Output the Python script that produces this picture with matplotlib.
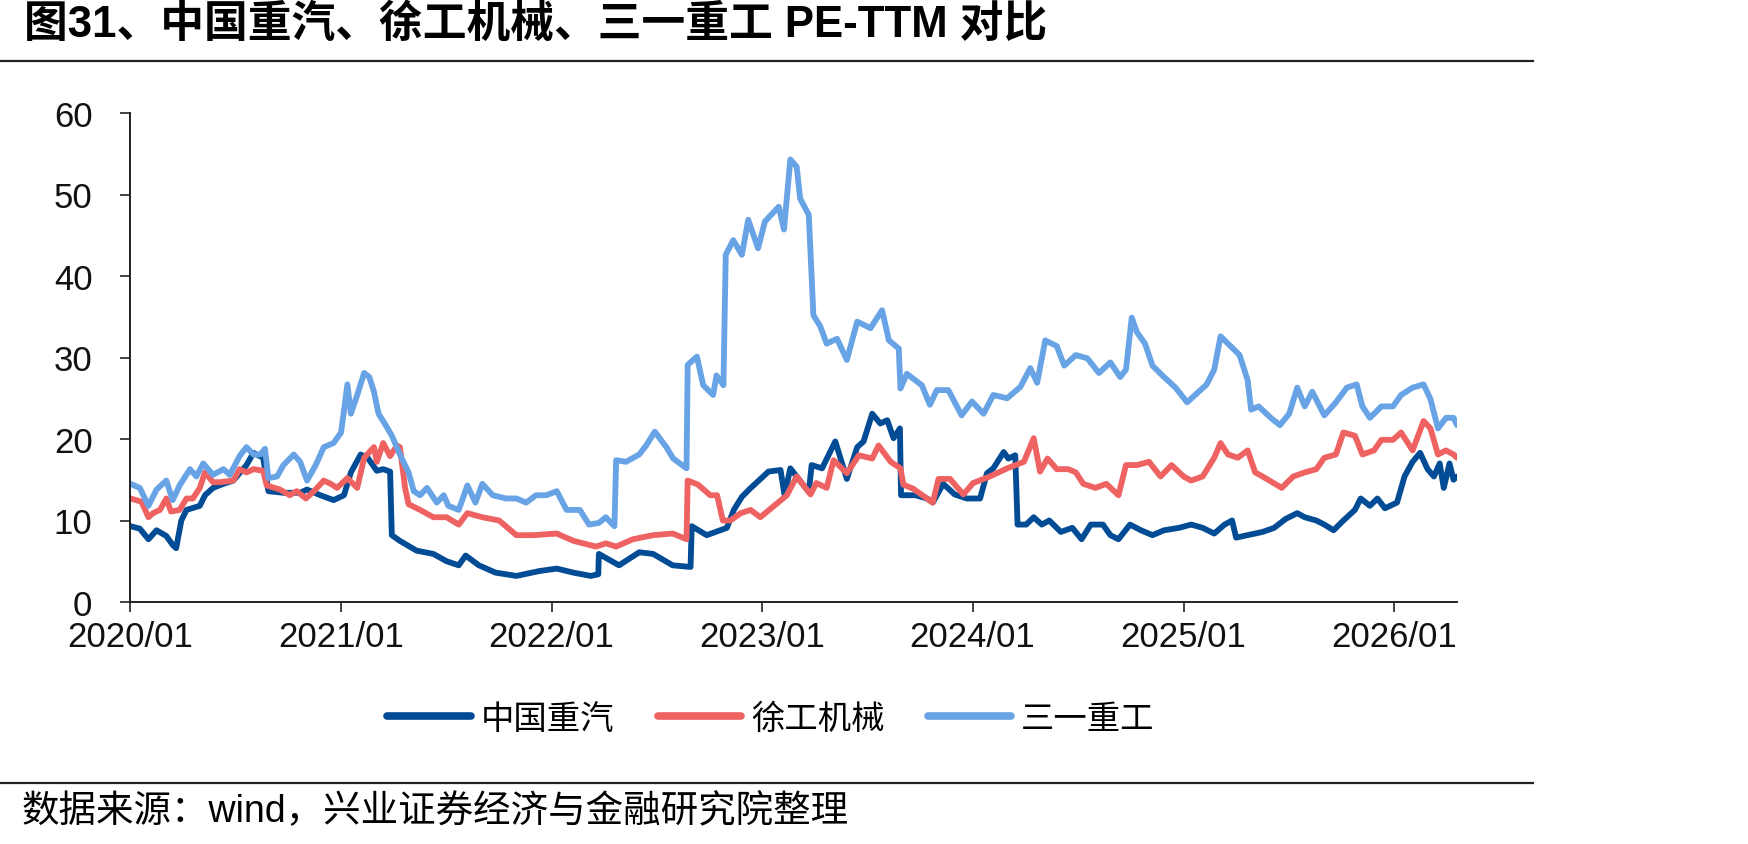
import matplotlib
matplotlib.use("Agg")
import matplotlib.pyplot as plt
import matplotlib.dates as mdates
from matplotlib.lines import Line2D
import pandas as pd

# ---------------- data ----------------
title = "图31、中国重汽、徐工机械、三一重工 PE-TTM 对比"
source = "数据来源：wind，兴业证券经济与金融研究院整理"
series_names = ["中国重汽", "徐工机械", "三一重工"]
y_ticks = [0, 10, 20, 30, 40, 50, 60]
x_tick_dates = ["2020-01-01", "2021-01-01", "2022-01-01", "2023-01-01",
                "2024-01-01", "2025-01-01", "2026-01-01"]

zq_dates = [
    "2020-01-02", "2020-01-18", "2020-02-02", "2020-02-16", "2020-03-04", "2020-03-15", "2020-03-21",
    "2020-03-30", "2020-04-08", "2020-05-01", "2020-05-10", "2020-05-24", "2020-06-11", "2020-06-28",
    "2020-07-21", "2020-08-02", "2020-08-19", "2020-08-28", "2020-09-23", "2020-10-22", "2020-11-03",
    "2020-11-26", "2020-12-19", "2021-01-06", "2021-01-18", "2021-02-04", "2021-02-16", "2021-03-04",
    "2021-03-15", "2021-03-27", "2021-03-30", "2021-04-13", "2021-05-12", "2021-06-10", "2021-07-03",
    "2021-07-24", "2021-08-05", "2021-08-28", "2021-09-26", "2021-11-01", "2021-12-11", "2022-01-10",
    "2022-02-08", "2022-03-10", "2022-03-23", "2022-03-24", "2022-04-28", "2022-06-02", "2022-06-26",
    "2022-07-30", "2022-08-30", "2022-09-01", "2022-09-27", "2022-11-01", "2022-11-13", "2022-11-27",
    "2022-12-11", "2023-01-12", "2023-02-02", "2023-02-09", "2023-02-19", "2023-03-23", "2023-03-28",
    "2023-04-15", "2023-05-08", "2023-05-28", "2023-06-15", "2023-06-26", "2023-07-11", "2023-07-25",
    "2023-08-06", "2023-08-17", "2023-08-28", "2023-08-30", "2023-09-24", "2023-10-14", "2023-10-24",
    "2023-11-11", "2023-12-01", "2023-12-22", "2024-01-14", "2024-01-26", "2024-02-06", "2024-02-24",
    "2024-03-03", "2024-03-15", "2024-03-19", "2024-04-03", "2024-04-16", "2024-04-30",
    "2024-05-13", "2024-06-02", "2024-06-22", "2024-07-08", "2024-07-24", "2024-08-14", "2024-08-27",
    "2024-09-10", "2024-09-30", "2024-10-19", "2024-11-08", "2024-11-28", "2024-12-24", "2025-01-14",
    "2025-02-03", "2025-02-23", "2025-03-13", "2025-03-26", "2025-04-02", "2025-04-22", "2025-05-18",
    "2025-06-07", "2025-06-27", "2025-07-17", "2025-07-30", "2025-08-19", "2025-09-02", "2025-09-18",
    "2025-10-05", "2025-10-25", "2025-11-04", "2025-11-20", "2025-12-03", "2025-12-16", "2026-01-06",
    "2026-01-19", "2026-02-02", "2026-02-15", "2026-02-28", "2026-03-11", "2026-03-21", "2026-03-28",
    "2026-04-07", "2026-04-14", "2026-04-20",
]
zq_values = [
    9.3, 9.0, 7.7, 8.8, 8.1, 7.0, 6.6,
    10.0, 11.3, 11.8, 13.1, 14.0, 14.5, 14.9,
    16.8, 18.3, 17.7, 13.6, 13.4, 13.4, 13.8,
    13.1, 12.5, 13.1, 15.9, 18.1, 17.7, 16.1,
    16.3, 16.0, 8.2, 7.5, 6.3, 5.9, 5.0,
    4.5, 5.7, 4.5, 3.6, 3.2, 3.8, 4.1,
    3.6, 3.2, 3.4, 5.9, 4.5, 6.1, 5.9,
    4.5, 4.3, 9.3, 8.2, 9.1, 11.3, 12.9,
    13.9, 16.0, 16.2, 13.1, 16.4, 13.5, 16.8,
    16.4, 19.7, 15.1, 19.0, 19.7, 23.1, 21.9,
    22.3, 20.1, 21.3, 13.1, 13.1, 12.7, 12.2,
    14.5, 13.2, 12.7, 12.7, 15.8, 16.4, 18.4,
    17.6, 18.0, 9.5, 9.5, 10.4, 9.5,
    10.0, 8.6, 9.1, 7.7, 9.5, 9.5, 8.2,
    7.7, 9.5, 8.8, 8.2, 8.8, 9.1, 9.5,
    9.1, 8.4, 9.5, 10.0, 7.9, 8.2, 8.6,
    9.1, 10.2, 10.9, 10.4, 10.0, 9.5, 8.8,
    10.0, 11.3, 12.7, 11.8, 12.7, 11.5, 12.2,
    15.4, 17.2, 18.3, 16.3, 15.4, 17.0, 14.0,
    17.0, 15.0, 15.4,
]

xg_dates = [
    "2020-01-02", "2020-01-12", "2020-01-21", "2020-02-02", "2020-02-10", "2020-02-22", "2020-03-04",
    "2020-03-12", "2020-03-27", "2020-04-08", "2020-04-19", "2020-05-01", "2020-05-10", "2020-05-24",
    "2020-06-05", "2020-06-28", "2020-07-09", "2020-07-21", "2020-08-02", "2020-08-19", "2020-08-25",
    "2020-09-17", "2020-10-04", "2020-10-16", "2020-11-01", "2020-11-15", "2020-12-02", "2020-12-14",
    "2020-12-25", "2021-01-12", "2021-01-29", "2021-02-10", "2021-02-27", "2021-03-04", "2021-03-15",
    "2021-03-27", "2021-04-08", "2021-04-13", "2021-04-22", "2021-04-28", "2021-05-18", "2021-06-10",
    "2021-07-03", "2021-07-24", "2021-08-08", "2021-09-03", "2021-10-02", "2021-11-01", "2021-11-30",
    "2022-01-10", "2022-02-08", "2022-03-19", "2022-04-05", "2022-04-23", "2022-05-22", "2022-06-26",
    "2022-07-30", "2022-08-23", "2022-08-25", "2022-09-12", "2022-10-03", "2022-10-15", "2022-10-25",
    "2022-11-07", "2022-11-25", "2022-12-12", "2022-12-29", "2023-01-22", "2023-02-13", "2023-03-02",
    "2023-03-26", "2023-04-05", "2023-04-23", "2023-05-05", "2023-05-28", "2023-06-18", "2023-07-11",
    "2023-07-22", "2023-08-12", "2023-08-29", "2023-09-03", "2023-09-20", "2023-10-24", "2023-11-03",
    "2023-11-23", "2023-12-16", "2024-01-02", "2024-01-31", "2024-03-01", "2024-03-30", "2024-04-16",
    "2024-04-27", "2024-05-10",
    "2024-05-26", "2024-06-15", "2024-06-28", "2024-07-11", "2024-08-01", "2024-08-20", "2024-09-10",
    "2024-09-23", "2024-10-12", "2024-11-02", "2024-11-22", "2024-12-11", "2025-01-01", "2025-01-14",
    "2025-02-03", "2025-02-23", "2025-03-06", "2025-03-19", "2025-04-05", "2025-04-22", "2025-05-05",
    "2025-05-18", "2025-06-20", "2025-07-10", "2025-07-30", "2025-08-19", "2025-09-02", "2025-09-22",
    "2025-10-05", "2025-10-25", "2025-11-07", "2025-11-27", "2025-12-10", "2025-12-30", "2026-01-13",
    "2026-02-02", "2026-02-21", "2026-03-05", "2026-03-18", "2026-04-01", "2026-04-14", "2026-04-20",
]
xg_values = [
    12.7, 12.5, 12.3, 10.4, 10.9, 11.3, 12.7,
    11.1, 11.3, 12.7, 12.7, 14.0, 15.9, 14.7,
    14.7, 14.9, 16.3, 15.9, 16.3, 16.1, 14.3,
    13.8, 13.1, 13.6, 12.7, 13.6, 14.9, 14.5,
    14.0, 15.2, 14.0, 17.7, 19.0, 17.2, 19.5,
    17.9, 19.2, 19.0, 14.0, 12.0, 11.3, 10.4,
    10.4, 9.5, 10.9, 10.4, 10.0, 8.2, 8.2,
    8.4, 7.5, 6.8, 7.2, 6.8, 7.7, 8.2,
    8.4, 7.7, 14.9, 14.4, 13.1, 13.1, 10.0,
    10.0, 10.9, 11.3, 10.4, 11.8, 13.1, 15.4,
    13.2, 14.6, 14.0, 17.4, 15.8, 18.0, 17.6,
    19.2, 17.2, 16.4, 14.4, 13.9, 12.2, 15.1,
    15.1, 13.2, 14.6, 15.4, 16.4, 17.2, 20.1,
    16.0, 17.6,
    16.3, 16.3, 15.9, 14.5, 14.0, 14.5, 13.1,
    16.8, 16.8, 17.2, 15.4, 16.8, 15.4, 14.9,
    15.4, 17.7, 19.5, 18.1, 17.7, 18.6, 15.9,
    15.4, 14.0, 15.4, 15.9, 16.3, 17.7, 18.1,
    20.8, 20.4, 18.1, 18.6, 19.9, 19.9, 20.8,
    18.6, 22.2, 21.3, 18.1, 18.6, 18.1, 17.7,
]

sy_dates = [
    "2020-01-02", "2020-01-18", "2020-02-02", "2020-02-16", "2020-03-04", "2020-03-15", "2020-03-27",
    "2020-04-14", "2020-04-25", "2020-05-07", "2020-05-24", "2020-06-11", "2020-06-22", "2020-07-09",
    "2020-07-21", "2020-08-02", "2020-08-14", "2020-08-22", "2020-08-28", "2020-09-12", "2020-09-23",
    "2020-10-11", "2020-10-22", "2020-11-03", "2020-11-18", "2020-12-02", "2020-12-19", "2021-01-01",
    "2021-01-12", "2021-01-18", "2021-01-29", "2021-02-10", "2021-02-19", "2021-02-27", "2021-03-07",
    "2021-03-21", "2021-03-30", "2021-04-13", "2021-04-28", "2021-05-07", "2021-05-18", "2021-05-30",
    "2021-06-16", "2021-06-28", "2021-07-06", "2021-07-24", "2021-08-08", "2021-08-22", "2021-09-03",
    "2021-09-21", "2021-10-14", "2021-11-01", "2021-11-18", "2021-12-05", "2021-12-23", "2022-01-10",
    "2022-01-27", "2022-02-19", "2022-03-07", "2022-03-24", "2022-04-05", "2022-04-20", "2022-04-23",
    "2022-05-10", "2022-06-02", "2022-06-14", "2022-06-29", "2022-07-19", "2022-07-31", "2022-08-23",
    "2022-08-25", "2022-09-10", "2022-09-21", "2022-10-08", "2022-10-14", "2022-10-26", "2022-10-30",
    "2022-11-12", "2022-11-27", "2022-12-08", "2022-12-25", "2023-01-06", "2023-01-30", "2023-02-08",
    "2023-02-19", "2023-03-02", "2023-03-08", "2023-03-23", "2023-03-31", "2023-04-12", "2023-04-23",
    "2023-05-11", "2023-05-28", "2023-06-15", "2023-07-08", "2023-07-28", "2023-08-09", "2023-08-26",
    "2023-08-29", "2023-09-09", "2023-10-05", "2023-10-19", "2023-10-31", "2023-11-20", "2023-12-13",
    "2023-12-31", "2024-01-20", "2024-02-06", "2024-03-01", "2024-03-24", "2024-04-10", "2024-04-22",
    "2024-05-06", "2024-05-26", "2024-06-08",
    "2024-06-28", "2024-07-18", "2024-08-07", "2024-08-27", "2024-09-13", "2024-09-23", "2024-10-03",
    "2024-10-12", "2024-10-26", "2024-11-08", "2024-11-28", "2024-12-18", "2025-01-07", "2025-01-27",
    "2025-02-10", "2025-02-23", "2025-03-06", "2025-03-19", "2025-04-08", "2025-04-22", "2025-04-28",
    "2025-05-11", "2025-06-01", "2025-06-17", "2025-07-03", "2025-07-17", "2025-07-30", "2025-08-12",
    "2025-09-02", "2025-09-22", "2025-10-11", "2025-10-28", "2025-11-07", "2025-11-20", "2025-12-10",
    "2025-12-30", "2026-01-13", "2026-02-02", "2026-02-21", "2026-03-05", "2026-03-18", "2026-04-01",
    "2026-04-14", "2026-04-20",
]
sy_values = [
    14.5, 14.0, 11.8, 13.8, 14.9, 12.5, 14.3,
    16.3, 15.4, 17.0, 15.6, 16.3, 15.6, 17.9,
    19.0, 18.1, 18.1, 18.8, 15.2, 15.4, 16.8,
    18.1, 17.2, 14.9, 16.8, 19.0, 19.5, 20.8,
    26.7, 23.1, 25.4, 28.1, 27.6, 25.8, 23.1,
    21.5, 20.4, 18.1, 15.9, 13.6, 13.1, 14.0,
    12.2, 13.1, 11.8, 11.3, 14.3, 12.2, 14.5,
    13.1, 12.7, 12.7, 12.2, 13.1, 13.1, 13.6,
    11.3, 11.3, 9.5, 9.7, 10.4, 9.3, 17.4,
    17.2, 18.1, 19.2, 20.9, 19.0, 17.6, 16.4,
    29.1, 30.1, 26.6, 25.4, 27.8, 26.6, 42.6,
    44.4, 42.6, 46.9, 43.4, 46.7, 48.5, 45.7,
    54.3, 53.4, 49.5, 47.5, 35.2, 33.8, 31.7,
    32.3, 29.7, 34.4, 33.6, 35.8, 32.1, 31.1,
    26.2, 28.0, 26.6, 24.2, 26.0, 26.0, 22.9,
    24.6, 23.1, 25.4, 25.0, 26.4, 28.7, 26.9,
    32.1, 31.4, 29.0,
    30.3, 29.9, 28.1, 29.4, 27.6, 28.5, 34.9,
    33.1, 31.7, 29.0, 27.6, 26.3, 24.5, 25.8,
    26.7, 28.5, 32.6, 31.7, 30.3, 27.2, 23.6,
    24.0, 22.6, 21.7, 23.1, 26.3, 24.0, 25.8,
    22.9, 24.5, 26.3, 26.7, 24.0, 22.6, 24.0,
    24.0, 25.4, 26.3, 26.7, 24.9, 21.3, 22.6,
    22.6, 21.7,
]

colors = ["#024C96", "#EF6262", "#67A3E5"]

# ---------------- figure ----------------
W, H = 1748, 845
fig = plt.figure(figsize=(W / 100, H / 100), dpi=100)
fam = ["Liberation Sans", "Noto Sans CJK SC", "DejaVu Sans"]
plt.rcParams["font.family"] = fam

ax = fig.add_axes([130 / W, 1 - 603 / H, (1457 - 130) / W, (603 - 114) / H])

all_series = [(zq_dates, zq_values), (xg_dates, xg_values), (sy_dates, sy_values)]
for (d, v), name, c in zip(all_series, series_names, colors):
    ax.plot(pd.to_datetime(d), v, color=c, lw=4.2, label=name,
            solid_joinstyle="round", solid_capstyle="round")

ax.set_ylim(0, 60)
ax.set_yticks(y_ticks)
ax.set_xlim(pd.Timestamp("2020-01-01"), pd.Timestamp("2026-04-20"))
ax.set_xticks(pd.to_datetime(x_tick_dates))
ax.xaxis.set_major_formatter(mdates.DateFormatter("%Y/%m"))

for s in ["top", "right"]:
    ax.spines[s].set_visible(False)
for s in ["left", "bottom"]:
    ax.spines[s].set_linewidth(1.4)
    ax.spines[s].set_color("#222222")
ax.tick_params(axis="both", direction="out", length=7, width=1.2, color="#222222",
               labelsize=25, labelcolor="#111111")
ax.tick_params(axis="y", pad=20)
ax.tick_params(axis="x", pad=6)

# legend
handles = [Line2D([0], [0], color=c, lw=5.5, solid_capstyle="round") for c in colors]
fig.legend(handles, series_names, loc="center", bbox_to_anchor=(771 / W, 1 - 720 / H),
           ncol=3, frameon=False, fontsize=24, handlelength=2.5, handletextpad=0.3,
           columnspacing=1.3)

# title and rules
fig.text(24 / W, 1 - 25 / H, title, fontsize=31.5, fontweight="bold", va="center", ha="left",
         color="black")
fig.add_artist(Line2D([0, 1533 / W], [1 - 61.5 / H] * 2, color="#222222", lw=1.6))
fig.add_artist(Line2D([0, 1533 / W], [1 - 784 / H] * 2, color="#222222", lw=1.6))
fig.text(22 / W, 1 - 812 / H, source, fontsize=27, fontweight="light", va="center", ha="left",
         color="black")

fig.savefig("out.png", dpi=100)
